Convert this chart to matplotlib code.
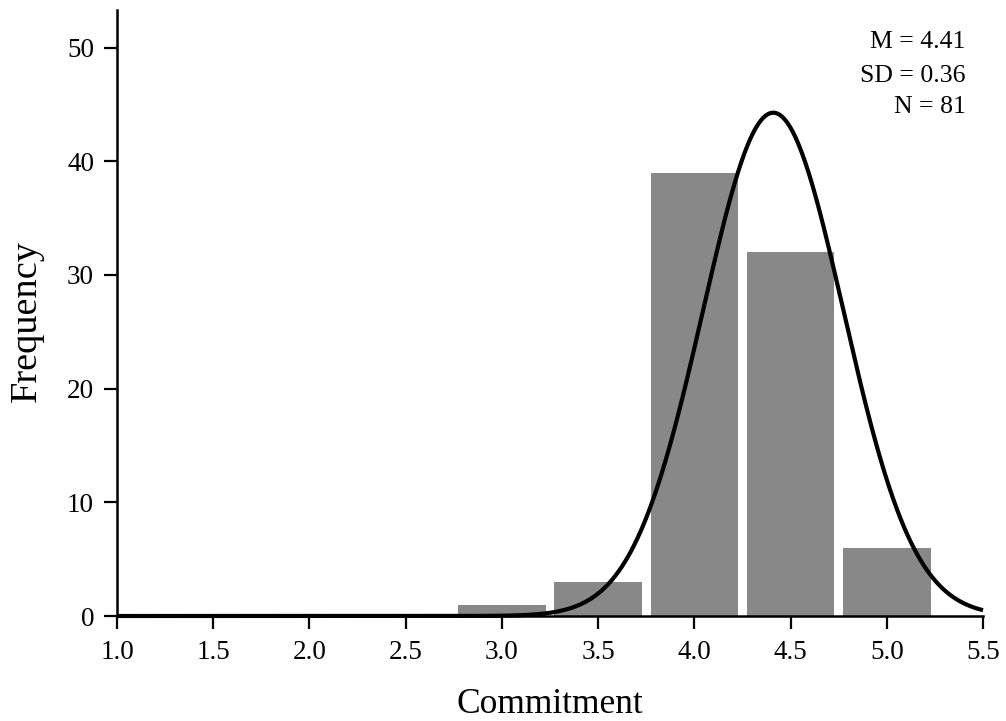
import numpy as np
import matplotlib
matplotlib.use("Agg")
import matplotlib.pyplot as plt

plt.rcParams['font.family'] = ['Liberation Serif', 'DejaVu Serif']

bin_centers = [3.0, 3.5, 4.0, 4.5, 5.0]
counts = [1, 3, 39, 32, 6]
mean = 4.41
sd = 0.36
sd_curve = 0.365  # curve width (unrounded SD)
n = 81
bin_width = 0.5
xticks = [1.0, 1.5, 2.0, 2.5, 3.0, 3.5, 4.0, 4.5, 5.0, 5.5]
yticks = [0, 10, 20, 30, 40, 50]

W, H = 1006, 721
fig = plt.figure(figsize=(W / 100, H / 100), dpi=100)
ax = fig.add_axes([117 / W, 1 - 616 / H, (983 - 117) / W, (616 - 10) / H])

ax.bar(bin_centers, counts, width=0.455, color='#888888', zorder=1)
xs = np.linspace(1.0, 5.5, 800)
ys = n * bin_width * np.exp(-0.5 * ((xs - mean) / sd_curve) ** 2) / (sd_curve * np.sqrt(2 * np.pi))
ax.plot(xs, ys, color='black', lw=3.0, zorder=3, clip_on=False, solid_capstyle='butt')

ax.set_xlim(1.0, 5.5)
ax.set_ylim(0, 53.3)
ax.set_xticks(xticks)
ax.set_xticklabels([f"{t:.1f}" for t in xticks])
ax.set_yticks(yticks)
for s in ['top', 'right']:
    ax.spines[s].set_visible(False)
for s in ['left', 'bottom']:
    ax.spines[s].set_linewidth(1.8)
ax.tick_params(axis='both', width=1.6, length=9.5, labelsize=19.5)
ax.tick_params(axis='x', pad=8)
ax.tick_params(axis='y', pad=7)
ax.set_xlabel('Commitment', fontsize=25.5, labelpad=16)
ax.set_ylabel('Frequency', fontsize=27.5)
ax.yaxis.set_label_coords(-0.085, 0.487)

lines = [f"M = {mean:.2f}", f"SD = {sd:.2f}", f"N = {n}"]
baselines_px = [48.3, 81.7, 113.3]
for txt, by in zip(lines, baselines_px):
    fig.text(965.7 / W, 1 - by / H, txt, ha='right', va='baseline', fontsize=18.5)

fig.savefig('out.png', dpi=100)
